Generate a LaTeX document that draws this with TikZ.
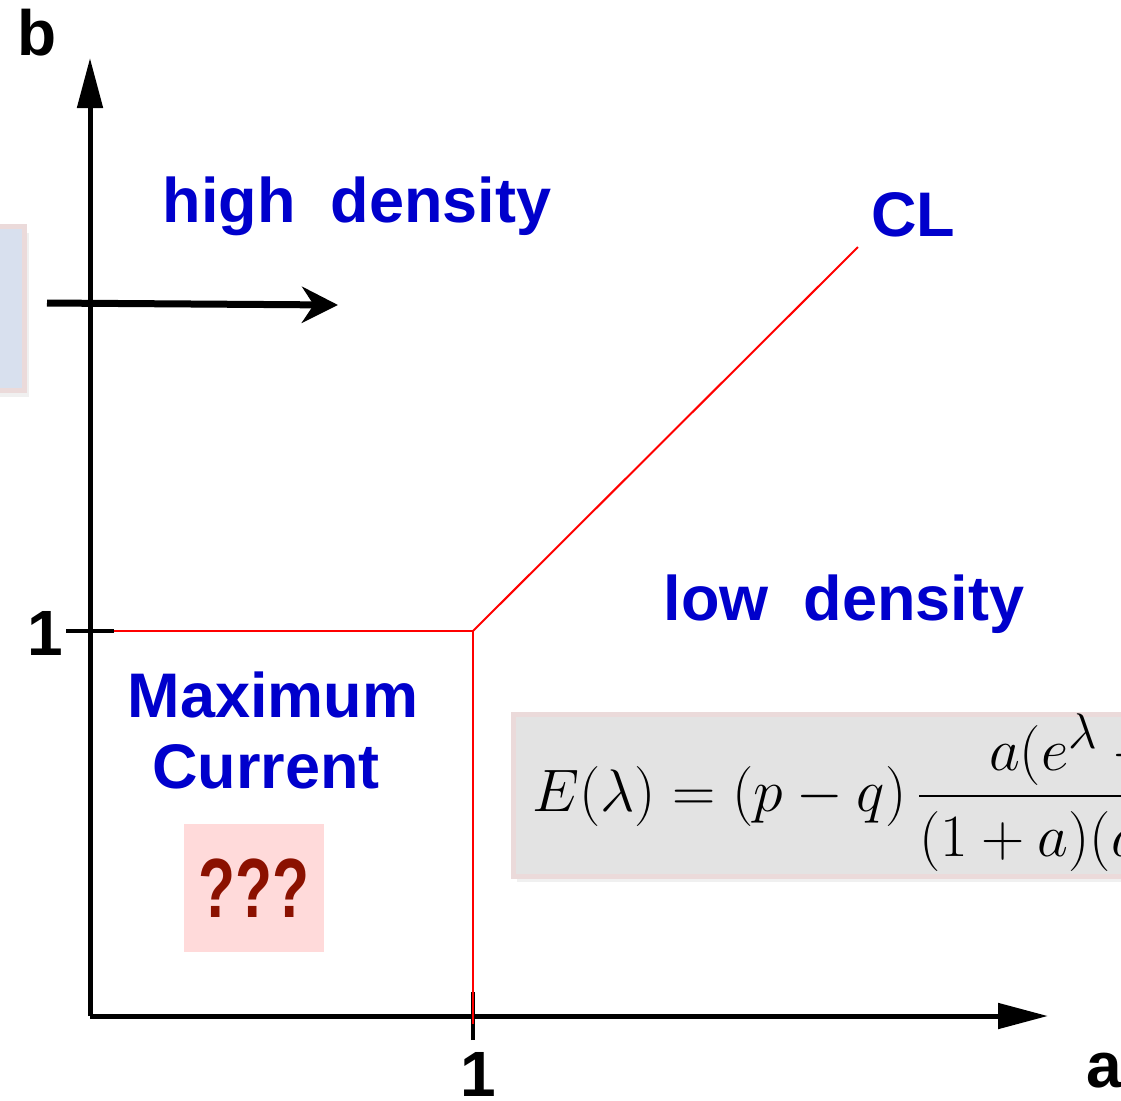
\documentclass[tikz,border=0pt]{standalone}
\usepackage{amsmath}
\usepackage{fontspec}
\setmainfont{Liberation Sans}
\usetikzlibrary{arrows.meta,positioning,shadows}
\definecolor{phaseblue}{HTML}{0000CC}
\definecolor{qred}{HTML}{8B1100}
\definecolor{qfill}{HTML}{FFDADA}
\definecolor{boxblue}{HTML}{D8E0EE}
\definecolor{boxgrey}{HTML}{E3E3E3}
\definecolor{boxrim}{HTML}{EBDADA}

\begin{document}
\begin{tikzpicture}[
    x=0.5pt,y=-0.5pt,
    axis/.style={line width=2.5pt,-{Triangle[length=25pt,width=12.5pt]}},
    tick/.style={line width=2pt},
    border/.style={red,line width=1pt},
    region/.style={font=\fontsize{31.5}{38}\selectfont\bfseries,color=phaseblue,inner sep=0pt,anchor=base},
    axlabel/.style={font=\fontsize{32}{38}\selectfont\bfseries,inner sep=0pt,anchor=base},
    panel/.style={draw=boxrim,line width=2.5pt,drop shadow={opacity=0.12,shadow xshift=2pt,shadow yshift=-3pt}},
    flow/.style={line width=3.5pt,-{Stealth[length=18pt,width=18pt]}}
]
\useasboundingbox (0,0) rectangle (1121,1100);
\clip (0,0) rectangle (1121,1100);

% grey boxes
\node[panel,fill=boxblue,anchor=north east,minimum width=80pt,minimum height=82pt,inner sep=0pt] (inbox) at (27,224) {};
\draw[panel,fill=boxgrey] (513,714) rectangle (1400,876);

% axes
\coordinate (O) at (90,1016);
\coordinate (xend) at (1048,1016);
\coordinate (yend) at (90,58);
\draw[axis] (O) -- (xend);
\draw[axis] (O) -- (yend);
\coordinate (xone) at (473,1016);
\coordinate (yone) at (90,631);
\draw[tick] ([yshift=-12]xone) -- ([yshift=12]xone);
\draw[tick] ([xshift=-12]yone) -- ([xshift=12]yone);

% phase boundaries
\coordinate (tp) at (473,631);
\coordinate (cl) at (858,247);
\draw[border] ([xshift=12]yone) -- (tp);
\draw[border] (tp) -- ([yshift=-4]xone);
\draw[border] (tp) -- (cl);

% labels
\node[axlabel] (blab) at (37,55) {b};
\node[axlabel] (alab) at (1104,1087) {a};
\node[axlabel] (xonelab) at (478,1096) {1};
\node[axlabel] (yonelab) at (45,655) {1};

\node[region] (hd) at (357,222) {high\ \ density};
\node[region] (ld) at (844,620) {low\ \ density};
\node[region] (cllab) at (913,236) {CL};
\node[region] (mc1) at (273,717) {Maximum};
\node[region] (mc2) at (266,788) {Current};

\node[fill=qfill,minimum width=70pt,minimum height=64pt,inner sep=0pt,
      font=\fontsize{42}{46}\selectfont\bfseries,text=qred] (qq) at (254,888) {\scalebox{0.72}[1]{???}};

\node[anchor=base west,inner sep=0pt,font=\Huge] (energy) at (532,811)
  {\scalebox{1.206}{$\displaystyle E(\lambda)=(p-q)\,\frac{a(e^{\lambda}-1)}{(1+a)(a+e^{\lambda})}$}};

% injection arrow
\coordinate (fin) at (47,303);
\coordinate (fout) at (338,305);
\draw[flow] (fin) -- (fout);
\end{tikzpicture}
\end{document}
